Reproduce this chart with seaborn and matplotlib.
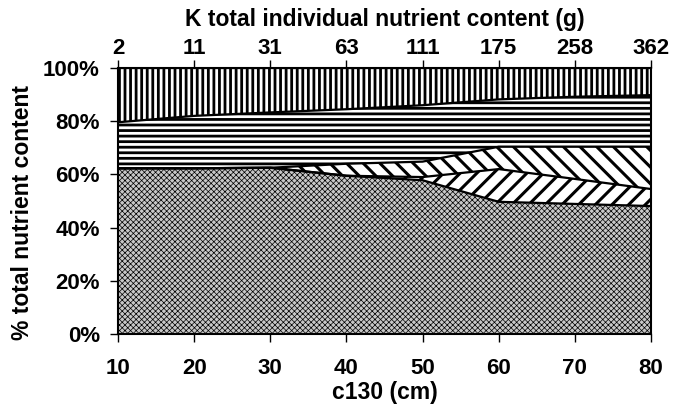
import matplotlib
matplotlib.use("Agg")
import matplotlib.pyplot as plt
import seaborn as sns
import numpy as np
import pandas as pd

# ---- data ----
c130 = [10, 20, 30, 40, 50, 60, 70, 80]
k_total = ["2", "11", "31", "63", "111", "175", "258", "362"]
layer_dotted = [62.3, 62.3, 62.5, 59.5, 57.8, 49.7, 48.9, 48.1]
layer_fwd = [0.0, 0.0, 0.0, 0.0, 1.2, 12.3, 9.4, 6.4]
layer_back = [0.0, 0.0, 0.0, 4.5, 5.8, 8.4, 12.1, 15.9]
layer_horiz = [17.3, 19.7, 20.8, 20.5, 21.2, 17.8, 18.8, 19.4]
layer_vert = [20.4, 18.0, 16.7, 15.5, 14.0, 11.8, 10.8, 10.2]
yticks = [0, 20, 40, 60, 80, 100]

sns.set_style("white")
plt.rcParams["font.family"] = ["Liberation Sans", "DejaVu Sans"]
plt.rcParams["font.weight"] = "bold"
plt.rcParams["text.color"] = "black"
plt.rcParams["axes.labelcolor"] = "black"
plt.rcParams["xtick.color"] = "black"
plt.rcParams["ytick.color"] = "black"

df = pd.DataFrame({"x": c130, "dotted": layer_dotted, "fwd": layer_fwd,
                   "back": layer_back, "horiz": layer_horiz, "vert": layer_vert})

fig = plt.figure(figsize=(6.85, 4.15), dpi=100)
L, R, T, B = 118, 651, 68, 334
ax = fig.add_axes([L/685, 1 - B/415, (R-L)/685, (B-T)/415])

styles = [("dotted", "#c8c8c8", "xxxxxx", 0.5),
          ("fwd", "white", "//", 2.2),
          ("back", "white", "\\\\", 2.2),
          ("horiz", "white", "---", 2.0),
          ("vert", "white", "|||", 2.0)]
base = np.zeros(len(c130))
for col, fc, hatch, hlw in styles:
    top = base + df[col].to_numpy()
    with plt.rc_context({"hatch.linewidth": hlw, "hatch.color": "black"}):
        coll = ax.fill_between(df["x"], base, top, facecolor=fc, hatch=hatch,
                               edgecolor="black", linewidth=0)
        if hasattr(coll, "set_hatch_linewidth"):
            coll.set_hatch_linewidth(hlw)
    sns.lineplot(x=df["x"], y=top, ax=ax, color="black", linewidth=1.6)
    base = top

FS_T = 16
FS_L = 16.5
ax.set_xlim(10, 80)
ax.set_ylim(0, 100)
ax.set_xticks(c130)
ax.set_xticklabels([str(v) for v in c130], fontsize=FS_T, fontweight="bold")
ax.set_yticks(yticks)
ax.set_yticklabels([f"{v}%" for v in yticks], fontsize=FS_T, fontweight="bold")
ax.tick_params(axis="y", direction="out", length=6, width=1, left=True, pad=7)
ax.tick_params(axis="x", direction="out", length=6, width=1, bottom=True, pad=11.5)
ax.set_xlabel("c130 (cm)", fontsize=FS_L, fontweight="bold", va="center")
ax.xaxis.set_label_coords(0.5, (B - 393) / (B - T))
ax.set_ylabel("% total nutrient content", fontsize=FS_L, fontweight="bold", va="center")
ax.yaxis.set_label_coords((23 - L) / (R - L), (B - 213) / (B - T))
for s in ax.spines.values():
    s.set_visible(True)
    s.set_color("black")
    s.set_linewidth(1.5)

ax2 = ax.twiny()
ax2.set_xlim(ax.get_xlim())
ax2.set_xticks(c130)
ax2.set_xticklabels(k_total, fontsize=FS_T, fontweight="bold")
ax2.tick_params(axis="x", direction="out", length=6, width=1, top=True, pad=0.5)
ax2.set_xlabel("K total individual nutrient content (g)", fontsize=FS_L,
               fontweight="bold", va="center")
ax2.xaxis.set_label_coords(0.5, (B - 19) / (B - T))
for s in ax2.spines.values():
    s.set_visible(False)

fig.savefig("out.png", dpi=100)
